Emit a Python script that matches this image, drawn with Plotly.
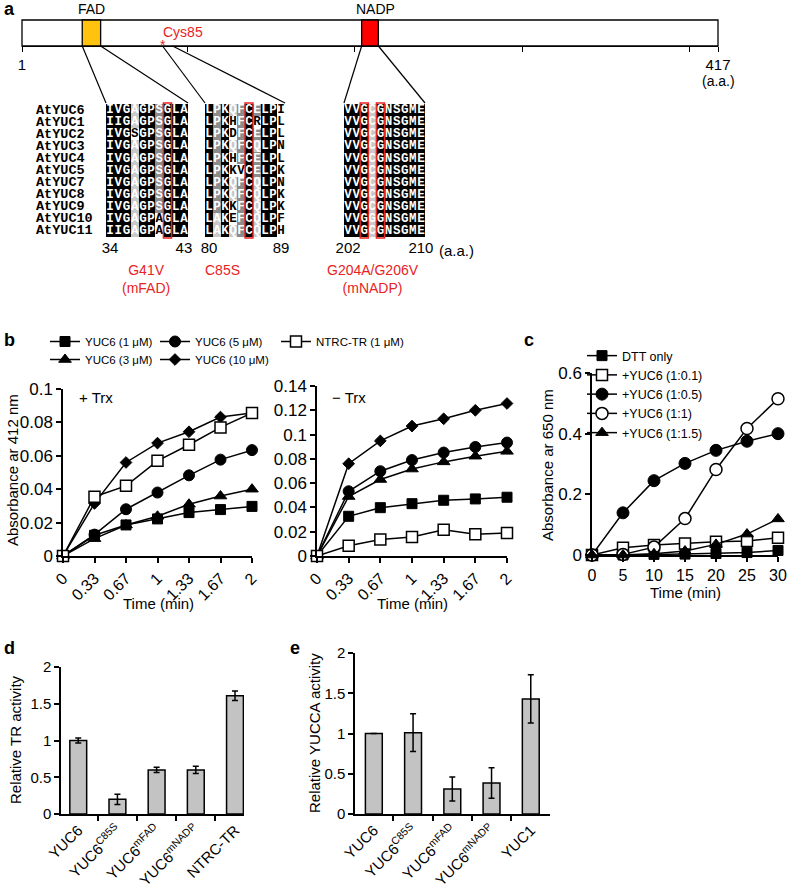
import plotly.graph_objects as go

W, H = 788, 891


def PX(p):
    return p / W


def PY(p):
    return 1 - p / H


FONT = "Liberation Sans, Arial, Helvetica, sans-serif"
MONO = "Liberation Mono, Courier New, monospace"
RED = "#e8231f"

# ---------------- data: panel a ----------------
protein_length = 417
protein_ticks = [1, 100, 200, 300, 400, 417]
protein_ticklabels = ["1", "", "", "", "", "417"]
fad_motif = [37, 48]
nadp_motif = [204, 214]
cys_site = 85
cys_zoom = [85, 91]

seq_names = ["AtYUC6", "AtYUC1", "AtYUC2", "AtYUC3", "AtYUC4", "AtYUC5",
             "AtYUC7", "AtYUC8", "AtYUC9", "AtYUC10", "AtYUC11"]

fad_block_range = [34, 43]
fad_block_seqs = ["IVGAGPSGLA", "IIGAGPSGLA", "IVGSGPSGLA", "IVGAGPSGLA",
                  "IVGAGPSGLA", "IVGAGPSGLA", "IVGAGPSGLA", "IVGAGPSGLA",
                  "IVGAGPSGLA", "IVGAGPAGLA", "IIGAGPAGLA"]
fad_block_shade = ["3331332333", "3331332333", "3330332333", "3331332333",
                   "3331332333", "3331332333", "3331332333", "3331332333",
                   "3331332333", "3331330333", "3331330333"]
fad_block_mut = [41]

cys_block_range = [80, 89]
cys_block_seqs = ["LPKQFCELPI", "LPKHFCRLPL", "LPKDFCELPL", "LPKQFCQLPN",
                  "LPKHFCELPL", "LPKKVCELPK", "LPKQFCQLPN", "LPKQFCQLPK",
                  "LPKKFCQLPK", "LAKEFCQLPF", "LAKQFCQLPH"]
cys_block_shade = ["3231232330", "3230230330", "3230232330", "3231231330",
                   "3230232330", "3230032330", "3231231330", "3231231330",
                   "3230231330", "3130231330", "3131231330"]
cys_block_mut = [85]

nadp_block_range = [202, 210]
nadp_block_seqs = ["VVGCGNSGME", "VVGCGNSGME", "VVGCGNSGME", "VVGCGNSGME",
                   "VVGCGNSGME", "VVGCGNSGME", "VVGCGNSGME", "VVGCGNSGME",
                   "VVGCGNSGME", "VVGGGNSGME", "VVGCGNSGME"]
nadp_block_shade = ["3331333333"] * 11
nadp_block_mut = [204, 206]

mutation_labels = ["G41V<br>(mFAD)", "C85S", "G204A/G206V<br>(mNADP)"]

# ---------------- data: panel b ----------------
time_b = ["0", "0.33", "0.67", "1", "1.33", "1.67", "2"]
b_series = ["YUC6 (1 μM)", "YUC6 (3 μM)", "YUC6 (5 μM)", "YUC6 (10 μM)", "NTRC-TR (1 μM)"]
plus_trx_1uM = [0, 0.0124, 0.0186, 0.0222, 0.026, 0.0278, 0.0297]
plus_trx_3uM = [0, 0.0104, 0.0186, 0.0238, 0.031, 0.0359, 0.040]
plus_trx_5uM = [0, 0.0128, 0.028, 0.038, 0.0483, 0.0577, 0.0634]
plus_trx_10uM = [0, 0.0315, 0.056, 0.0676, 0.0744, 0.0832, 0.0856]
plus_trx_ntrc = [0, 0.0355, 0.042, 0.057, 0.0666, 0.077, 0.0856]

minus_trx_1uM = [0, 0.0327, 0.0398, 0.0431, 0.0459, 0.0470, 0.0484]
minus_trx_3uM = [0, 0.049, 0.063, 0.0716, 0.0775, 0.0822, 0.0862]
minus_trx_5uM = [0, 0.0533, 0.0698, 0.0790, 0.0852, 0.0898, 0.0934]
minus_trx_10uM = [0, 0.076, 0.0948, 0.107, 0.113, 0.120, 0.1256]
minus_trx_ntrc = [0, 0.0085, 0.0135, 0.0157, 0.0217, 0.0179, 0.019]

# ---------------- data: panel c ----------------
time_c = [0, 5, 10, 15, 20, 25, 30]
c_series = ["DTT only", "+YUC6 (1:0.1)", "+YUC6 (1:0.5)", "+YUC6 (1:1)", "+YUC6 (1:1.5)"]
c_dtt = [0, 0.0, 0.002, 0.003, 0.005, 0.008, 0.015]
c_01 = [0, 0.024, 0.033, 0.038, 0.044, 0.046, 0.057]
c_05 = [0, 0.139, 0.245, 0.302, 0.345, 0.375, 0.40]
c_1 = [0, 0.002, 0.026, 0.12, 0.282, 0.417, 0.515]
c_15 = [0, 0.0, 0.004, 0.013, 0.035, 0.069, 0.119]

# ---------------- data: panels d, e ----------------
d_labels = ["YUC6", "YUC6<sup>C85S</sup>", "YUC6<sup>mFAD</sup>", "YUC6<sup>mNADP</sup>", "NTRC-TR"]
d_values = [1.0, 0.2, 0.6, 0.6, 1.61]
d_errors = [0.035, 0.07, 0.035, 0.05, 0.065]

e_labels = ["YUC6", "YUC6<sup>C85S</sup>", "YUC6<sup>mFAD</sup>", "YUC6<sup>mNADP</sup>", "YUC1"]
e_values = [1.0, 1.01, 0.31, 0.385, 1.43]
e_errors = [0, 0.235, 0.15, 0.19, 0.30]

# ======================================================================
fig = go.Figure()
shapes = []
annotations = []


def note(text, x, y, size=15, color="black", xanchor="center", yanchor="middle", **kw):
    d = dict(text=text, x=x, y=y, xref="paper", yref="paper", xanchor=xanchor, yanchor=yanchor,
             showarrow=False, font=dict(size=size, color=color, family=FONT))
    d.update(kw)
    return d


# ---------- panel a: protein bar ----------
prot_x0, prot_x1 = PX(22), PX(718)
prot_y0, prot_y1 = PY(46), PY(20)


def aa_to_paper(aa):
    return prot_x0 + (aa - 1) / (protein_length - 1) * (prot_x1 - prot_x0)


shapes.append(dict(type="rect", xref="paper", yref="paper",
                   x0=aa_to_paper(1), x1=aa_to_paper(protein_length), y0=prot_y0, y1=prot_y1,
                   line=dict(color="black", width=1.3), fillcolor="white", layer="below"))
shapes.append(dict(type="rect", xref="paper", yref="paper",
                   x0=aa_to_paper(fad_motif[0]), x1=aa_to_paper(fad_motif[1]), y0=prot_y0, y1=prot_y1,
                   line=dict(color="black", width=1.3), fillcolor="#ffc20e"))
shapes.append(dict(type="rect", xref="paper", yref="paper",
                   x0=aa_to_paper(nadp_motif[0]), x1=aa_to_paper(nadp_motif[1]), y0=prot_y0, y1=prot_y1,
                   line=dict(color="black", width=1.3), fillcolor="#ff0000"))

annotations += [
    note("FAD", aa_to_paper(sum(fad_motif) / 2), PY(9), size=14),
    note("NADP", aa_to_paper(sum(nadp_motif) / 2) + PX(5), PY(9), size=14),
    note("Cys85", aa_to_paper(cys_site) - PX(2), PY(32), size=14, color=RED, xanchor="left"),
    note("*", aa_to_paper(cys_site), PY(45), size=14, color=RED),
    note("(a.a.)", aa_to_paper(protein_length), PY(81), size=14),
]

# invisible carrier for protein axis ticks
fig.add_trace(go.Scatter(x=[1, protein_length], y=[0, 0], mode="markers", marker=dict(opacity=0),
                         xaxis="x", yaxis="y", showlegend=False, hoverinfo="skip"))

# ---------- panel a: alignment blocks ----------
blocks = [
    (fad_block_range, fad_block_seqs, fad_block_shade, fad_block_mut, (106, 188),
     [aa_to_paper(fad_motif[0]), aa_to_paper(fad_motif[1])], mutation_labels[0], 146),
    (cys_block_range, cys_block_seqs, cys_block_shade, cys_block_mut, (205, 285),
     [aa_to_paper(cys_zoom[0]), aa_to_paper(cys_zoom[1])], mutation_labels[1], 222),
    (nadp_block_range, nadp_block_seqs, nadp_block_shade, nadp_block_mut, (344, 425),
     [aa_to_paper(nadp_motif[0]), aa_to_paper(nadp_motif[1])], mutation_labels[2], 373),
]
blk_top, blk_bot = 104, 237
shade_scale = [[0, "#ffffff"], [1 / 3, "#c9c9c9"], [2 / 3, "#8c8c8c"], [1, "#000000"]]

for bi, (rng, seqs, shade, muts, (bx0, bx1), src, mlabel, mlx) in enumerate(blocks):
    ax = bi + 2
    start = rng[0]
    ncol = len(seqs[0])
    positions = [start + i for i in range(ncol)]
    z = [[int(c) for c in row] for row in shade]
    fig.add_trace(go.Heatmap(x=positions, y=seq_names, z=z, colorscale=shade_scale, zmin=0, zmax=3,
                             showscale=False, xaxis=f"x{ax}", yaxis=f"y{ax}", hoverinfo="skip"))
    xs, ys, ts, cs = [], [], [], []
    for r, name in enumerate(seq_names):
        for i, ch in enumerate(seqs[r]):
            xs.append(positions[i])
            ys.append(name)
            ts.append(ch)
            cs.append("white" if z[r][i] >= 1 else "black")
    fig.add_trace(go.Scatter(x=xs, y=ys, text=ts, mode="text",
                             textfont=dict(family=MONO, size=12.5, color=cs, weight="bold"),
                             xaxis=f"x{ax}", yaxis=f"y{ax}", showlegend=False, hoverinfo="skip"))
    dx0, dx1 = PX(bx0), PX(bx1)
    fig.layout[f"xaxis{ax}"] = dict(domain=[dx0, dx1], range=[start - 0.5, start + ncol - 0.5],
                                    tickvals=[start, start + ncol - 1], ticktext=[str(rng[0]), str(rng[1])],
                                    ticks="", showline=False, showgrid=False, zeroline=False,
                                    tickfont=dict(size=15, family=FONT), anchor=f"y{ax}",
                                    fixedrange=True, automargin=False)
    fig.layout[f"yaxis{ax}"] = dict(domain=[PY(blk_bot), PY(blk_top)], range=[len(seq_names) - 0.5, -0.5],
                                    type="category", categoryorder="array", categoryarray=seq_names,
                                    visible=False, anchor=f"x{ax}", fixedrange=True)
    cw = (dx1 - dx0) / ncol
    for m in muts:
        k = m - start
        shapes.append(dict(type="rect", xref="paper", yref="paper",
                           x0=dx0 + k * cw, x1=dx0 + (k + 1) * cw,
                           y0=PY(blk_bot + 1), y1=PY(blk_top - 1),
                           line=dict(color=RED, width=1.4), fillcolor="rgba(0,0,0,0)"))
    # zoom lines
    shapes.append(dict(type="line", xref="paper", yref="paper", x0=src[0], y0=prot_y0,
                       x1=dx0, y1=PY(blk_top - 1), line=dict(color="black", width=1.2)))
    shapes.append(dict(type="line", xref="paper", yref="paper", x0=src[1], y0=prot_y0,
                       x1=dx1, y1=PY(blk_top - 1), line=dict(color="black", width=1.2)))
    annotations.append(note(mlabel, PX(mlx), PY(260), size=14, color=RED, yanchor="top",
                            align="center"))

annotations.append(note("(a.a.)", PX(437), PY(250), xanchor="left"))

for name in seq_names:
    annotations.append(dict(text=f"<b>{name}</b>", x=PX(34), y=name, xref="paper", yref="y2",
                            xanchor="left", yanchor="middle", showarrow=False,
                            font=dict(family=MONO, size=13.5)))

# ---------- panel b ----------
b_style = {
    "YUC6 (1 μM)": dict(symbol="square", size=10, color="black", line=dict(color="black", width=1)),
    "YUC6 (3 μM)": dict(symbol="triangle-up", size=11, color="black", line=dict(color="black", width=1)),
    "YUC6 (5 μM)": dict(symbol="circle", size=11, color="black", line=dict(color="black", width=1)),
    "YUC6 (10 μM)": dict(symbol="diamond", size=9, color="black", line=dict(color="black", width=1)),
    "NTRC-TR (1 μM)": dict(symbol="square", size=11, color="white", line=dict(color="black", width=1.5)),
}
# one legend per entry so the 3 + 2 grid of the original can be placed freely
b_legend = {"YUC6 (1 μM)": "legend", "YUC6 (5 μM)": "legend2", "NTRC-TR (1 μM)": "legend3",
            "YUC6 (3 μM)": "legend5", "YUC6 (10 μM)": "legend6"}
plus_data = dict(zip(b_series, [plus_trx_1uM, plus_trx_3uM, plus_trx_5uM, plus_trx_10uM, plus_trx_ntrc]))
minus_data = dict(zip(b_series, [minus_trx_1uM, minus_trx_3uM, minus_trx_5uM, minus_trx_10uM, minus_trx_ntrc]))
draw_order = ["YUC6 (10 μM)", "YUC6 (5 μM)", "YUC6 (3 μM)", "YUC6 (1 μM)", "NTRC-TR (1 μM)"]
for name in draw_order:
    fig.add_trace(go.Scatter(x=time_b, y=plus_data[name], name=name, mode="lines+markers",
                             line=dict(color="black", width=1.5), marker=b_style[name],
                             xaxis="x5", yaxis="y5", legend=b_legend[name], cliponaxis=False))
    fig.add_trace(go.Scatter(x=time_b, y=minus_data[name], name=name, mode="lines+markers",
                             line=dict(color="black", width=1.5), marker=b_style[name],
                             xaxis="x6", yaxis="y6", showlegend=False, cliponaxis=False))

# ---------- panel c ----------
c_style = [
    dict(symbol="square", size=10, color="black", line=dict(color="black", width=1)),
    dict(symbol="square", size=11, color="white", line=dict(color="black", width=1.5)),
    dict(symbol="circle", size=12, color="black", line=dict(color="black", width=1)),
    dict(symbol="circle", size=12, color="white", line=dict(color="black", width=1.5)),
    dict(symbol="triangle-up", size=11, color="black", line=dict(color="black", width=1)),
]
for name, vals, st in zip(c_series, [c_dtt, c_01, c_05, c_1, c_15], c_style):
    fig.add_trace(go.Scatter(x=time_c, y=vals, name=name, mode="lines+markers",
                             line=dict(color="black", width=1.5), marker=st,
                             xaxis="x7", yaxis="y7", legend="legend4", cliponaxis=False))

# ---------- panels d, e ----------
fig.add_trace(go.Bar(x=d_labels, y=d_values, width=0.43,
                     marker=dict(color="#c3c3c3", line=dict(color="black", width=1.5)),
                     error_y=dict(type="data", array=d_errors, color="black", thickness=1.5, width=3),
                     xaxis="x8", yaxis="y8", showlegend=False))
fig.add_trace(go.Bar(x=e_labels, y=e_values, width=0.43,
                     marker=dict(color="#c3c3c3", line=dict(color="black", width=1.5)),
                     error_y=dict(type="data", array=e_errors, color="black", thickness=1.5, width=3),
                     xaxis="x9", yaxis="y9", showlegend=False))


# ---------- axes ----------
def ax(size=15, **kw):
    d = dict(showline=True, linecolor="black", linewidth=1.5, ticks="outside", ticklen=5,
             tickwidth=1.5, tickcolor="black", showgrid=False, zeroline=False,
             tickfont=dict(size=size, family=FONT, color="black"), fixedrange=True,
             automargin=False)
    d.update(kw)
    return d


fig.update_layout(
    xaxis=ax(domain=[prot_x0, prot_x1], range=[1, protein_length], tickvals=protein_ticks,
             ticktext=protein_ticklabels, anchor="y", linewidth=0, ticklen=5, tickwidth=1.2),
    yaxis=dict(domain=[prot_y0, prot_y1], range=[0, 1], visible=False, anchor="x", fixedrange=True),
    xaxis5=ax(size=16, domain=[PX(63), PX(252)], type="category", range=[0, len(time_b) - 1],
              tickangle=-45, anchor="y5"),
    yaxis5=ax(size=17, domain=[PY(556), PY(389)], range=[0, 0.1],
              tickvals=[0, 0.02, 0.04, 0.06, 0.08, 0.1], anchor="x5"),
    xaxis6=ax(size=16, domain=[PX(317), PX(507)], type="category", range=[0, len(time_b) - 1],
              tickangle=-45, anchor="y6"),
    yaxis6=ax(size=17, domain=[PY(556), PY(386)], range=[0, 0.14],
              tickvals=[0, 0.02, 0.04, 0.06, 0.08, 0.1, 0.12, 0.14], anchor="x6"),
    xaxis7=ax(size=16, domain=[PX(592), PX(778)], range=[0, 30], tickvals=time_c, anchor="y7"),
    yaxis7=ax(size=17, domain=[PY(555), PY(373)], range=[0, 0.6], tickvals=[0, 0.2, 0.4, 0.6],
              anchor="x7"),
    xaxis8=ax(domain=[PX(61), PX(244)], type="category", range=[-0.44, 4.23], tickangle=-45,
              tickson="boundaries", anchor="y8"),
    yaxis8=ax(domain=[PY(814), PY(667)], range=[0, 2], tickvals=[0, 0.5, 1, 1.5, 2], anchor="x8"),
    xaxis9=ax(domain=[PX(355), PX(550)], type="category", range=[-0.48, 4.49], tickangle=-45,
              tickson="boundaries", anchor="y9"),
    yaxis9=ax(domain=[PY(814), PY(653)], range=[0, 2], tickvals=[0, 0.5, 1, 1.5, 2], anchor="x9"),
)

# ---------- titles / labels ----------
annotations += [
    note("<b>a</b>", PX(2), PY(9), size=18, xanchor="left"),
    note("<b>b</b>", PX(2), PY(340), size=18, xanchor="left"),
    note("<b>c</b>", PX(522), PY(340), size=18, xanchor="left"),
    note("<b>d</b>", PX(2), PY(648), size=18, xanchor="left"),
    note("<b>e</b>", PX(288), PY(648), size=18, xanchor="left"),
    note("Absorbance ar 412 nm", PX(12), PY(470), textangle=-90),
    note("Time (min)", PX(158), PY(603)),
    note("Time (min)", PX(412), PY(603)),
    note("+ Trx", PX(77), PY(398), xanchor="left"),
    note("− Trx", PX(330), PY(398), xanchor="left"),
    note("Absorbance ar 650 nm", PX(548), PY(465), textangle=-90),
    note("Time (min)", PX(685), PY(592)),
    note("Relative TR activity", PX(15), PY(740), textangle=-90),
    note("Relative YUCCA activity", PX(314), PY(733), textangle=-90),
]

leg_common = dict(orientation="v", xanchor="left", yanchor="top", bgcolor="rgba(0,0,0,0)",
                  font=dict(size=11.5, family=FONT), itemwidth=30, tracegroupgap=0)
fig.update_layout(
    width=W, height=H, margin=dict(l=0, r=0, t=0, b=0, pad=0, autoexpand=False),
    paper_bgcolor="white", plot_bgcolor="white",
    font=dict(family=FONT, size=15, color="black"),
    shapes=shapes, annotations=annotations, showlegend=True,
    legend=dict(x=PX(45), y=PY(327), **leg_common),
    legend2=dict(x=PX(155), y=PY(327), **leg_common),
    legend3=dict(x=PX(276), y=PY(327), **leg_common),
    legend5=dict(x=PX(45), y=PY(345), **leg_common),
    legend6=dict(x=PX(155), y=PY(345), **leg_common),
    legend4=dict(x=PX(582), y=PY(341), xanchor="left", yanchor="top", orientation="v",
                 bgcolor="rgba(0,0,0,0)", font=dict(size=12.5, family=FONT), itemwidth=30,
                 tracegroupgap=0),
)

fig.write_html("out.html", config={"displayModeBar": False},
               post_script="document.body.style.margin='0px';")
